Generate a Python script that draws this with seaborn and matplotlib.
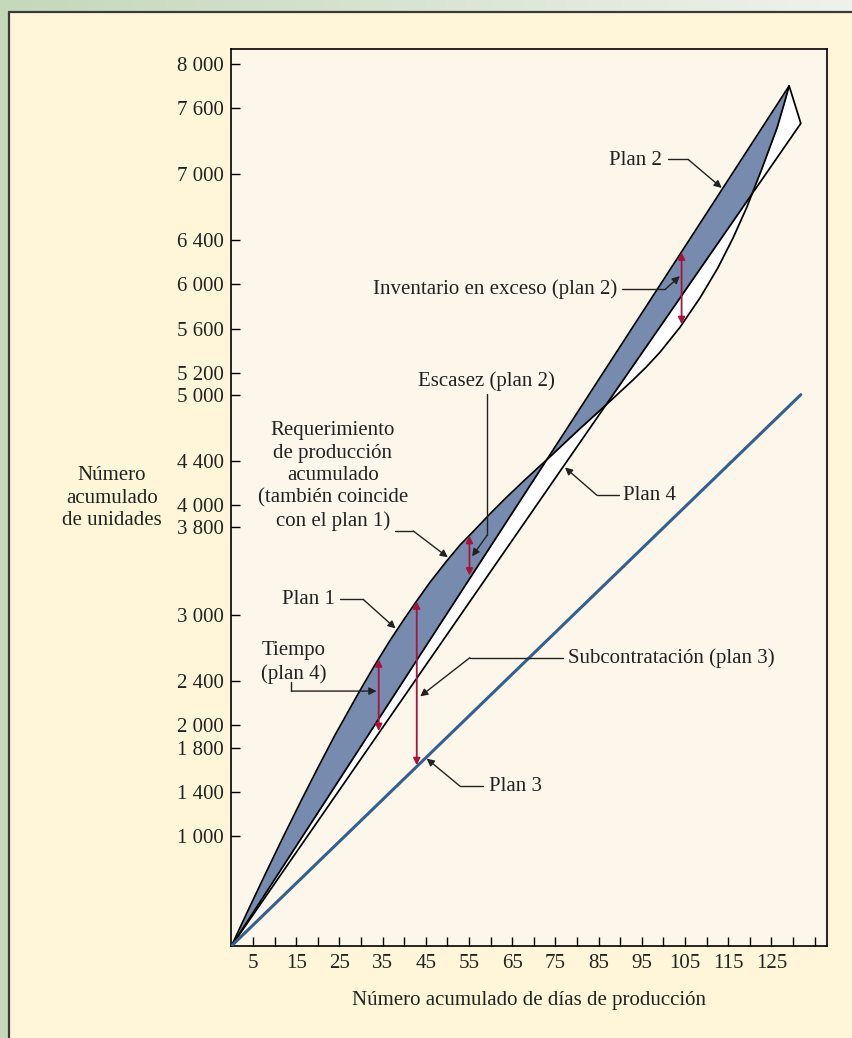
"""
Cumulative graph of the four aggregate plans (requirement, plan 2, plan 3, plan 4).
"""

import numpy as np
import matplotlib
matplotlib.use("Agg")
import matplotlib.pyplot as plt
import seaborn as sns
from matplotlib.patches import Rectangle
from matplotlib.colors import LinearSegmentedColormap

# ============================================================================
# Data (days, cumulative units)
# ============================================================================
req_days = [0, 4, 8, 12, 16.3, 20, 24, 29.8, 33, 36.7, 40, 42.9, 46, 49.8, 53, 56,
            60, 63.7, 68, 73.4, 80.2, 87.2, 93, 96, 99.2, 103.8, 108.5, 112.6,
            116.1, 119.3, 122.8, 126.3, 127.8, 129.1]
req_units = [0, 335, 665, 990, 1330, 1615, 1915, 2320, 2535, 2770, 2965, 3130, 3300,
             3490, 3640, 3760, 3925, 4070, 4230, 4425, 4675, 4925, 5135, 5250, 5385,
             5610, 5880, 6150, 6420, 6700, 7050, 7420, 7620, 7800]

plan2_days = [0, 129.1]
plan2_units = [0, 7800]

plan4_days = [0, 131.8, 129.1]
plan4_units = [0, 7460, 7800]

plan3_days = [0, 131.8]
plan3_units = [0, 5000]

y_ticks = [1000, 1400, 1800, 2000, 2400, 3000, 3800, 4000, 4400, 5000,
           5200, 5600, 6000, 6400, 7000, 7600, 8000]
x_ticks = list(range(5, 136, 5))
x_labeled = list(range(5, 126, 10))

# red measuring arrows: (day, bottom, top)
gap_arrows = [(34.1, 1950, 2600), (42.9, 1640, 3125), (55.1, 3360, 3720), (104.2, 5640, 6290)]

# colours
cream = '#FFF5D8'
plot_bg = '#FDF6EB'
green = '#C4D8BA'
band_blue = '#778BAF'
plan3_blue = '#34608F'
red = '#A8123E'
ink = '#222222'

# ============================================================================
# Figure and background frame
# ============================================================================
sns.set_theme(style='white')
plt.rcParams['font.family'] = ['Liberation Serif', 'DejaVu Serif']

fig = plt.figure(figsize=(8.52, 10.38), dpi=100)
fig.patch.set_facecolor(cream)

bg = fig.add_axes([0, 0, 1, 1], zorder=-10)
grad = np.linspace(0, 1, 256).reshape(1, -1)
top_cmap = LinearSegmentedColormap.from_list('top', [green, '#EEF2EC'])
bg.imshow(grad, extent=[0, 852, 12, 0], aspect='auto', cmap=top_cmap)
bg.add_patch(Rectangle((0, 0), 9, 1038, color=green, lw=0))
bg.plot([9, 9], [12, 1038], color='#3A3A3A', lw=1.6)
bg.plot([9, 852], [12, 12], color='#3A3A3A', lw=1.6)
bg.set_xlim(0, 852)
bg.set_ylim(1038, 0)
bg.axis('off')

ax = fig.add_axes([0.2716, 0.0886, 0.6985, 0.8642])
ax.set_facecolor(plot_bg)

# ============================================================================
# Shaded bands: blue between the top two curves, white between the lower two
# ============================================================================
grid = np.linspace(0, req_days[-1], 1200)
r = np.interp(grid, req_days, req_units)
p2 = np.interp(grid, plan2_days, plan2_units)
p4 = np.interp(grid, plan4_days[:2], plan4_units[:2])
stack = np.sort(np.vstack([r, p2, p4]), axis=0)

ax.fill_between(grid, stack[0], stack[1], color='white', lw=0, zorder=1)
ax.fill_between(grid, stack[1], stack[2], color=band_blue, lw=0, zorder=1)
ax.fill([plan4_days[2], plan4_days[1], plan4_days[2]],
        [plan4_units[2], plan4_units[1], p4[-1]], color='white', lw=0, zorder=1)

# ============================================================================
# Lines
# ============================================================================
sns.lineplot(x=req_days, y=req_units, sort=False, estimator=None, color='black', lw=1.25, ax=ax, zorder=3)
sns.lineplot(x=plan2_days, y=plan2_units, sort=False, estimator=None, color='black', lw=1.25, ax=ax, zorder=3)
sns.lineplot(x=plan4_days, y=plan4_units, sort=False, estimator=None, color='black', lw=1.25, ax=ax, zorder=3)
sns.lineplot(x=plan3_days, y=plan3_units, sort=False, estimator=None, color=plan3_blue, lw=2.2, ax=ax, zorder=3)

for day, lo, hi in gap_arrows:
    ax.annotate('', xy=(day, hi), xytext=(day, lo),
                arrowprops=dict(arrowstyle='<|-|>', color=red, lw=1.3, mutation_scale=10,
                                shrinkA=0, shrinkB=0), zorder=4)

# ============================================================================
# Labels with leader lines
# ============================================================================
fs = 15


def leader(points, tip):
    xs, ys = zip(*points)
    ax.plot(xs, ys, color=ink, lw=1.0, zorder=5)
    ax.annotate('', xy=tip, xytext=points[-1],
                arrowprops=dict(arrowstyle='-|>', color=ink, lw=1.0, mutation_scale=11,
                                shrinkA=0, shrinkB=0), zorder=5)


ax.text(99.7, 7128, 'Plan 2', ha='right', va='center', fontsize=fs, color=ink)
leader([(101.0, 7134), (105.7, 7134)], (113.5, 6875))

ax.text(89.3, 5955, 'Inventario en exceso (plan 2)', ha='right', va='center', fontsize=fs, color=ink)
leader([(90.4, 5955), (100.4, 5955)], (103.8, 6075))

ax.text(59.0, 5122, 'Escasez (plan 2)', ha='center', va='center', fontsize=fs, color=ink)
leader([(59.2, 5010), (59.2, 3725)], (55.7, 3534))

ax.text(23.5, 4260, 'Requerimiento\nde producción\nacumulado\n(también coincide\ncon el plan 1)',
        ha='center', va='center', fontsize=fs, color=ink, linespacing=1.25)
leader([(37.9, 3764), (42.1, 3764)], (50.1, 3525))

ax.text(24.0, 3144, 'Plan 1', ha='right', va='center', fontsize=fs, color=ink)
leader([(25.1, 3144), (30.5, 3144)], (38.0, 2880))

ax.text(14.5, 2573, 'Tiempo\n(plan 4)', ha='center', va='center', fontsize=fs, color=ink, linespacing=1.25)
leader([(13.9, 2390), (13.9, 2312)], (33.6, 2312))

ax.text(77.9, 2615, 'Subcontratación (plan 3)', ha='left', va='center', fontsize=fs, color=ink)
leader([(76.8, 2615), (55.2, 2615)], (43.7, 2264))

ax.text(59.6, 1450, 'Plan 3', ha='left', va='center', fontsize=fs, color=ink)
leader([(58.3, 1450), (52.9, 1450)], (45.2, 1700))

ax.text(90.6, 4088, 'Plan 4', ha='left', va='center', fontsize=fs, color=ink)
leader([(89.6, 4088), (84.6, 4088)], (77.2, 4340))

# ============================================================================
# Axes, ticks
# ============================================================================
ax.set_xlim(0, 137.75)
ax.set_ylim(0, 8135)

ax.set_yticks(y_ticks)
ax.set_yticklabels([f'{v:,}'.replace(',', ' ') for v in y_ticks])
ax.set_xticks(x_ticks)
ax.set_xticklabels([str(t) if t in x_labeled else '' for t in x_ticks])
ax.tick_params(axis='both', direction='in', length=6.5, width=1.0, color='black',
               labelsize=fs, labelcolor=ink)
ax.tick_params(axis='y', left=True, pad=5.5)
ax.tick_params(axis='x', bottom=True, pad=6)

for spine in ax.spines.values():
    spine.set_color('black')
    spine.set_linewidth(1.2)

ax.set_xlabel('Número acumulado de días de producción', fontsize=fs, color=ink)
ax.xaxis.set_label_coords(0.5, -0.0602)
ax.xaxis.label.set_va('center')

ax.set_ylabel('Número\nacumulado\nde unidades', fontsize=fs, color=ink,
              rotation=0, ha='center', va='center', linespacing=1.25)
ax.yaxis.set_label_coords(-0.2006, 0.4994)

plt.savefig('out.png', dpi=100, facecolor=fig.get_facecolor())
print("saved out.png")
